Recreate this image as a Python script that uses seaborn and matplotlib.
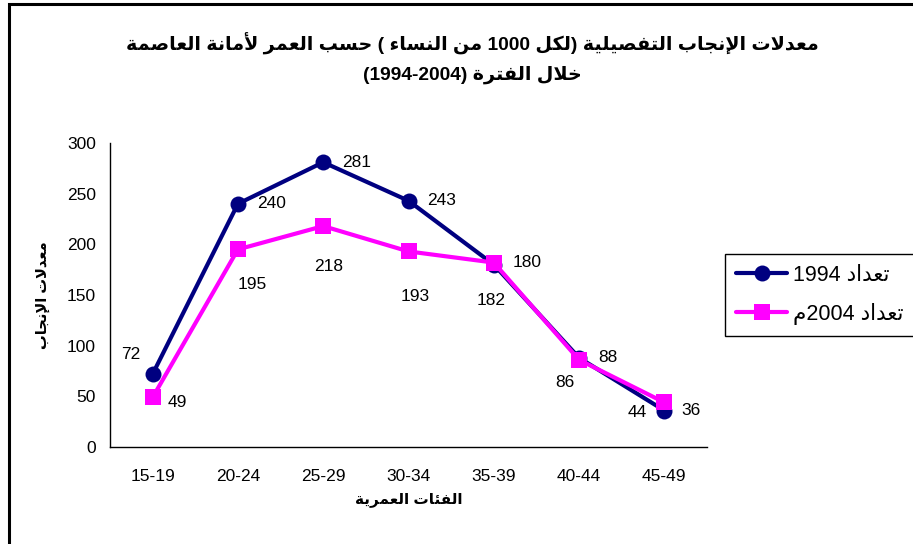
import re
import numpy as np
import pandas as pd
import seaborn as sns
import matplotlib.pyplot as plt
from matplotlib.patches import Rectangle

sns.set_style("white")
plt.rcParams['font.family'] = ['Liberation Sans', 'DejaVu Sans']
plt.rcParams['text.color'] = 'black'
plt.rcParams['axes.labelcolor'] = 'black'
plt.rcParams['xtick.color'] = 'black'
plt.rcParams['ytick.color'] = 'black'

# Data
age_groups = ['15-19', '20-24', '25-29', '30-34', '35-39', '40-44', '45-49']
rates_1994 = [72, 240, 281, 243, 180, 88, 36]
rates_2004 = [49, 195, 218, 193, 182, 86, 44]
label_1994 = 'تعداد 1994'
label_2004 = 'تعداد 2004م'
title_text = 'معدلات الإنجاب التفصيلية (لكل 1000 من النساء ) حسب العمر لأمانة العاصمة\nخلال الفترة (1994-2004)'
xlabel_text = 'الفئات العمرية'
ylabel_text = 'معدلات الإنجاب'

# label offsets in pixels (dx, dy), picked to match the original placement
offs_1994 = [(-22, 20), (19, 0), (19, 0), (19, 0), (19, 2), (19, 0), (17, 0)]
offs_2004 = [(15, -5), (14, -35), (5, -40), (7, -45), (-3, -38), (-14, -23), (-17, -10)]
ha_1994 = ['center', 'left', 'left', 'left', 'left', 'left', 'left']
ha_2004 = ['left', 'center', 'center', 'center', 'center', 'center', 'right']


# --- minimal Arabic shaping + RTL ordering (no reshaper libs offline) ---
ISO = {'ء': 0xFE80, 'آ': 0xFE81, 'أ': 0xFE83, 'ؤ': 0xFE85, 'إ': 0xFE87, 'ئ': 0xFE89,
       'ا': 0xFE8D, 'ب': 0xFE8F, 'ة': 0xFE93, 'ت': 0xFE95, 'ث': 0xFE99, 'ج': 0xFE9D,
       'ح': 0xFEA1, 'خ': 0xFEA5, 'د': 0xFEA9, 'ذ': 0xFEAB, 'ر': 0xFEAD, 'ز': 0xFEAF,
       'س': 0xFEB1, 'ش': 0xFEB5, 'ص': 0xFEB9, 'ض': 0xFEBD, 'ط': 0xFEC1, 'ظ': 0xFEC5,
       'ع': 0xFEC9, 'غ': 0xFECD, 'ف': 0xFED1, 'ق': 0xFED5, 'ك': 0xFED9, 'ل': 0xFEDD,
       'م': 0xFEE1, 'ن': 0xFEE5, 'ه': 0xFEE9, 'و': 0xFEED, 'ى': 0xFEEF, 'ي': 0xFEF1}
RIGHT_ONLY = set('آأؤإاةدذرزوى')
LAM_ALEF = {'آ': 0xFEF5, 'أ': 0xFEF7, 'إ': 0xFEF9, 'ا': 0xFEFB}


def dual(c):
    return c in ISO and c not in RIGHT_ONLY and c != 'ء'


def shape(s):
    out = []
    i = 0
    while i < len(s):
        c = s[i]
        if c not in ISO:
            out.append(c)
            i += 1
            continue
        prev = s[i - 1] if i > 0 else ''
        join_prev = dual(prev) and c != 'ء'
        if c == 'ل' and i + 1 < len(s) and s[i + 1] in LAM_ALEF:
            out.append(chr(LAM_ALEF[s[i + 1]] + (1 if join_prev else 0)))
            i += 2
            continue
        nxt = s[i + 1] if i + 1 < len(s) else ''
        join_next = dual(c) and nxt in ISO and nxt != 'ء'
        base = ISO[c]
        if join_prev and join_next:
            out.append(chr(base + 3))
        elif join_prev:
            out.append(chr(base + 1))
        elif join_next:
            out.append(chr(base + 2))
        else:
            out.append(chr(base))
        i += 1
    return ''.join(out)


def ar(text):
    lines = []
    for line in text.split('\n'):
        s = shape(line)[::-1]
        s = re.sub(r'[0-9][0-9\-]*[0-9]|[0-9]', lambda m: m.group()[::-1], s)
        s = s.translate(str.maketrans('()', ')('))
        lines.append(s)
    return '\n'.join(lines)


df = pd.DataFrame({'age': age_groups, 'r1994': rates_1994, 'r2004': rates_2004})

fig = plt.figure(figsize=(9.13, 5.44), dpi=100)
ax = fig.add_axes([110 / 913, 1 - 447 / 544, 597 / 913, 304 / 544])

sns.lineplot(data=df, x='age', y='r1994', ax=ax, color='#000080', lw=3,
             marker='o', markersize=11.5, markeredgewidth=0, sort=False,
             label=ar(label_1994))
sns.lineplot(data=df, x='age', y='r2004', ax=ax, color='#FF00FF', lw=3,
             marker='s', markersize=12, markeredgewidth=0, sort=False,
             label=ar(label_2004))

ax.set_xlim(-0.5, len(age_groups) - 0.5)
ax.set_ylim(0, 300)
ax.set_yticks(range(0, 301, 50))
ax.set_xticks(range(len(age_groups)))
ax.set_xticklabels(age_groups)
ax.set_xticks(np.arange(-0.5, len(age_groups), 1), minor=True)
ax.tick_params(axis='x', which='major', length=0, pad=16, labelsize=12.5)
ax.tick_params(axis='x', which='minor', length=5, width=1, direction='out')
ax.tick_params(axis='y', length=5, width=1, direction='out', pad=5, labelsize=12.5)
for side in ['top', 'right']:
    ax.spines[side].set_visible(False)
for side in ['left', 'bottom']:
    ax.spines[side].set_color('black')
    ax.spines[side].set_linewidth(1)

ax.set_xlabel(ar(xlabel_text), fontsize=11, fontweight='bold', labelpad=6)
ax.set_ylabel(ar(ylabel_text), fontsize=10.5, fontweight='bold', labelpad=12)

# data labels
for i, v in enumerate(rates_1994):
    ax.annotate(str(v), (i, v), xytext=(offs_1994[i][0] * 0.72, offs_1994[i][1] * 0.72),
                textcoords='offset points', ha=ha_1994[i], va='center', fontsize=12.5)
for i, v in enumerate(rates_2004):
    ax.annotate(str(v), (i, v), xytext=(offs_2004[i][0] * 0.72, offs_2004[i][1] * 0.72),
                textcoords='offset points', ha=ha_2004[i], va='center', fontsize=12.5)

ax.legend_.remove()
handles, labels = ax.get_legend_handles_labels()
leg = fig.legend(handles, labels, loc='upper left', bbox_to_anchor=(725 / 913, 1 - 254 / 544),
                 fontsize=15.5, frameon=True, fancybox=False, framealpha=1, edgecolor='black',
                 handlelength=2.4, handletextpad=0.25, labelspacing=0.8, borderpad=0.5,
                 borderaxespad=0)
leg.get_frame().set_linewidth(1)

fig.text(472 / 913, 1 - 58 / 544, ar(title_text), ha='center', va='center',
         fontsize=13.8, fontweight='bold', linespacing=1.75)

fig.patches.append(Rectangle((9 / 913, -0.05), 1.2, 1.05 - 4 / 544, transform=fig.transFigure,
                             fill=False, edgecolor='black', lw=2.2))

fig.savefig('out.png', dpi=100)
